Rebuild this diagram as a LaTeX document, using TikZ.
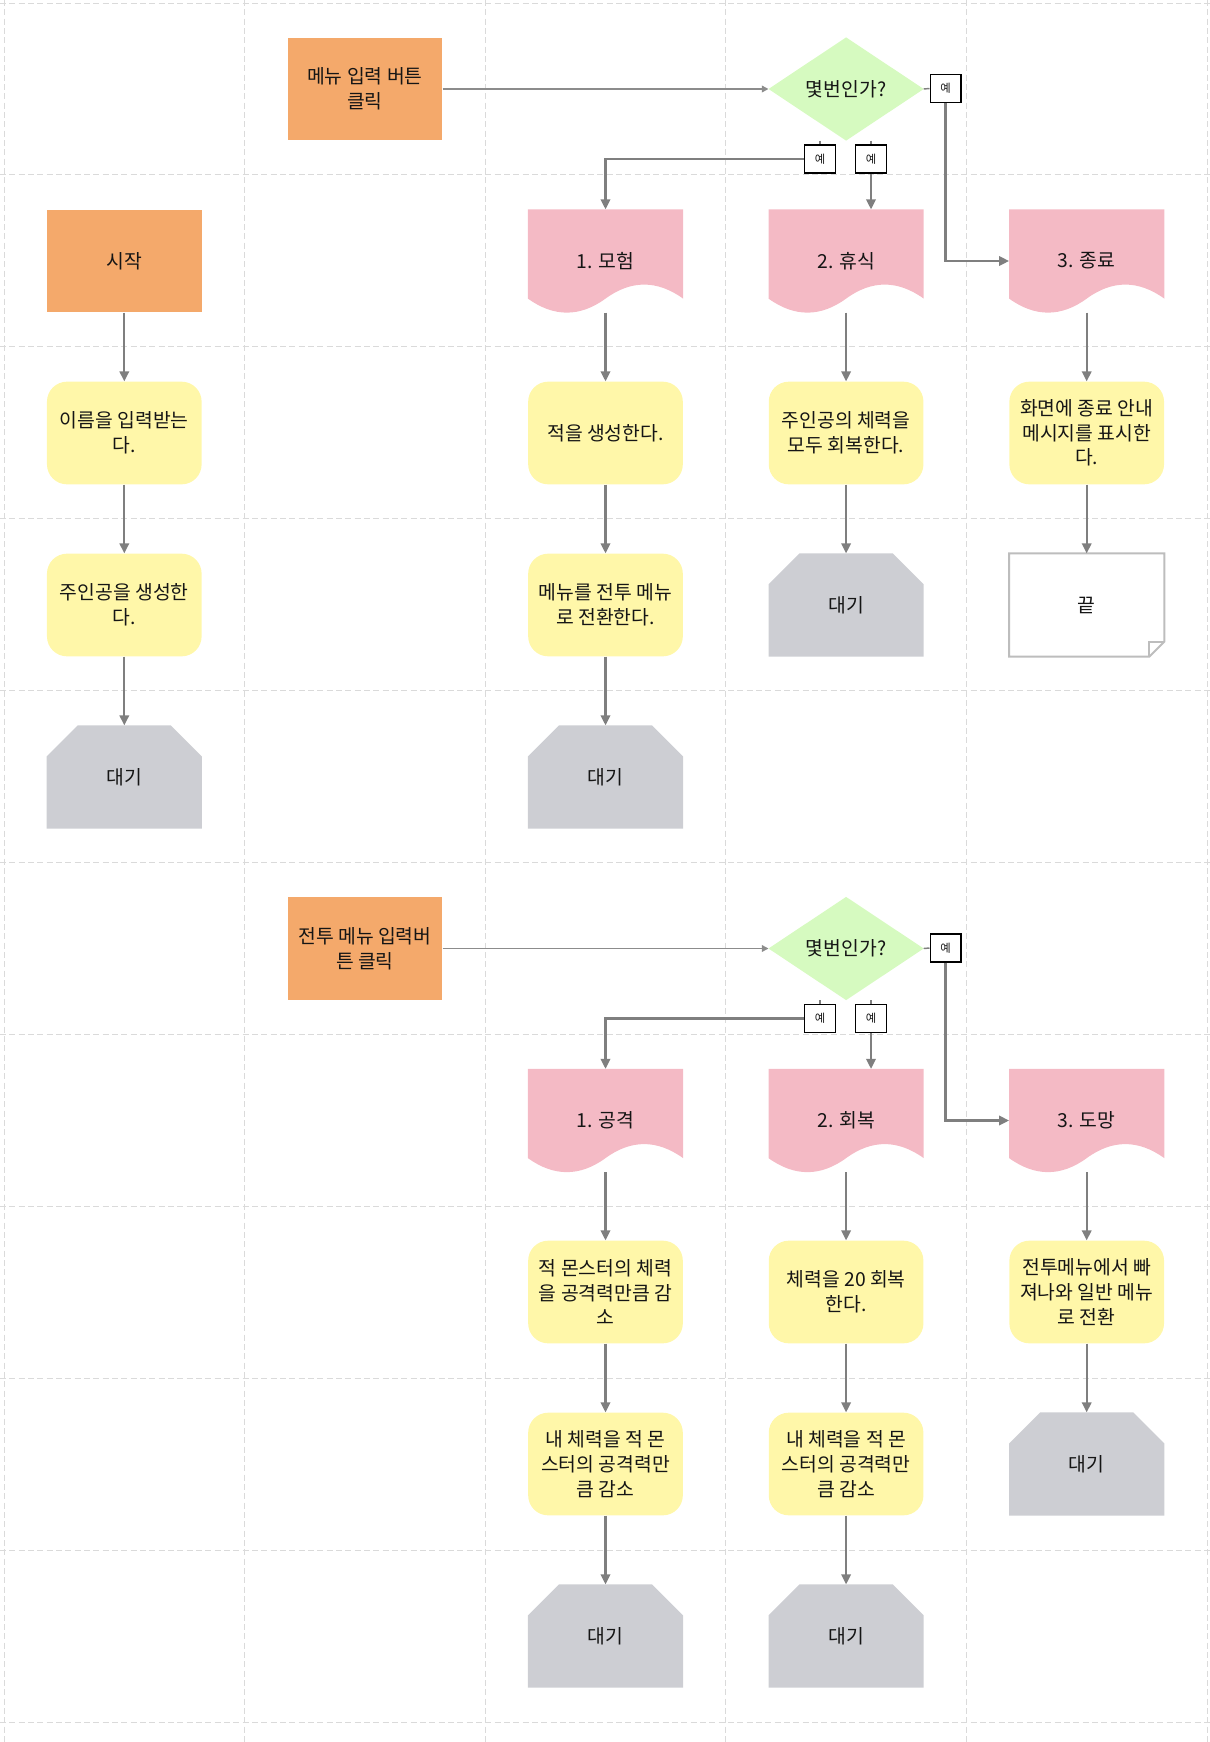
\documentclass[tikz,border=0pt]{standalone}
\usepackage{fontspec}
\setmainfont{Noto Sans CJK KR}
\usetikzlibrary{arrows.meta,calc,backgrounds}
\definecolor{orangec}{HTML}{F4A96B}
\definecolor{pinkc}{HTML}{F4BAC5}
\definecolor{yellowc}{HTML}{FFF7A9}
\definecolor{greenc}{HTML}{D6FAC0}
\definecolor{grayc}{HTML}{CDCED3}
\definecolor{notec}{HTML}{BDBDBD}
\definecolor{arrc}{HTML}{7F7F7F}
\definecolor{arrlight}{HTML}{8C8C8C}
\definecolor{gridc}{HTML}{DADADA}
\definecolor{txtc}{HTML}{151515}
\newcommand\docbg[1]{\fill[pinkc] (#1.north west) -- (#1.north east) -- ($(#1.south east)+(0,14)$) .. controls ($(#1.south east)+(-26,32.7)$) and ($(#1.south east)+(-52,32.7)$) .. ($(#1.south)+(0,14)$) .. controls ($(#1.south west)+(52,-4.7)$) and ($(#1.south west)+(26,-4.7)$) .. ($(#1.south west)+(0,14)$) -- cycle;}
\newcommand\hexbg[1]{\fill[grayc] ($(#1.north west)+(31,0)$) -- ($(#1.north east)+(-31,0)$) -- ($(#1.north east)+(0,-31)$) -- (#1.south east) -- (#1.south west) -- ($(#1.north west)+(0,-31)$) -- cycle;}
\newcommand\diabg[1]{\fill[greenc] (#1.north) -- (#1.east) -- (#1.south) -- (#1.west) -- cycle;}
\newcommand\notebg[1]{\draw[notec, line width=1.5pt, fill=white, line join=miter] (#1.north west) -- (#1.north east) -- ($(#1.south east)+(0,15)$) -- ($(#1.south east)+(-15,0)$) -- (#1.south west) -- cycle; \draw[notec, line width=1.5pt] ($(#1.south east)+(0,15)$) -- ($(#1.south east)+(-15,15)$) -- ($(#1.south east)+(-15,0)$);}
\begin{document}
\begin{tikzpicture}[x=0.75pt,y=0.75pt,
  base/.style={minimum width=116pt, minimum height=77pt, inner sep=0pt, align=center, text=txtc, font=\fontsize{14.5pt}{18.5pt}\selectfont},
  obox/.style={base, fill=orangec},
  ybox/.style={base, fill=yellowc, rounded corners=15pt},
  pbox/.style={base},
  gbox/.style={base},
  nbox/.style={base},
  dbox/.style={base},
  lab/.style={draw=black, line width=1pt, fill=white, minimum width=23pt, minimum height=21pt, inner sep=0pt, text=txtc, font=\fontsize{8.5pt}{10pt}\selectfont},
  arr/.style={draw=arrc, line width=1.7pt, -{Triangle[length=7.5pt,width=7pt]}},
  thinarr/.style={draw=arrlight, line width=1.1pt, -{Triangle[length=5pt,width=5pt]}},
  tick/.style={draw=arrc, line width=1.1pt},
  gridl/.style={draw=gridc, line width=0.75pt, dash pattern=on 4.5pt off 2.5pt}
]
\useasboundingbox (0,0) rectangle (1210,-1742);

% ---------- upper flow ----------
\node[obox] (m1) at (364.9,-89) {메뉴 입력 버튼\\클릭};
\node[dbox] (d1) at (846.1,-89) {몇번인가?};
\node[lab] (y1r) at (945.5,-88.5) {예};
\node[lab] (y1a) at (820,-159) {예};
\node[lab] (y1b) at (871,-159) {예};
\node[obox] (s0) at (124.3,-261) {시작};
\node[pbox] (t1) at (605.5,-261) {1. 모험};
\node[pbox] (t2) at (846.1,-261) {2. 휴식};
\node[pbox] (t3) at (1086.7,-261) {3. 종료};
\node[ybox] (n1) at (124.3,-433) {이름을 입력받는\\다.};
\node[ybox] (a1) at (605.5,-433) {적을 생성한다.};
\node[ybox] (b1) at (846.1,-433) {주인공의 체력을\\모두 회복한다.};
\node[ybox] (c1) at (1086.7,-433) {화면에 종료 안내\\메시지를 표시한\\다.};
\node[ybox] (n2) at (124.3,-605) {주인공을 생성한\\다.};
\node[ybox] (a2) at (605.5,-605) {메뉴를 전투 메뉴\\로 전환한다.};
\node[gbox] (w2) at (846.1,-605) {대기};
\node[nbox] (e1) at (1086.7,-605) {끝};
\node[gbox] (w0) at (124.3,-777) {대기};
\node[gbox] (w1) at (605.5,-777) {대기};

% ---------- lower flow ----------
\node[obox] (m2) at (364.9,-948.5) {전투 메뉴 입력버\\튼 클릭};
\node[dbox] (d2) at (846.1,-948.5) {몇번인가?};
\node[lab] (y2r) at (945.5,-948) {예};
\node[lab] (y2a) at (820,-1018.5) {예};
\node[lab] (y2b) at (871,-1018.5) {예};
\node[pbox] (u1) at (605.5,-1120.5) {1. 공격};
\node[pbox] (u2) at (846.1,-1120.5) {2. 회복};
\node[pbox] (u3) at (1086.7,-1120.5) {3. 도망};
\node[ybox] (f1) at (605.5,-1292) {적 몬스터의 체력\\을 공격력만큼 감\\소};
\node[ybox] (g1) at (846.1,-1292) {체력을 20 회복\\한다.};
\node[ybox] (h1) at (1086.7,-1292) {전투메뉴에서 빠\\져나와 일반 메뉴\\로 전환};
\node[ybox] (f2) at (605.5,-1464) {내 체력을 적 몬\\스터의 공격력만\\큼 감소};
\node[ybox] (g2) at (846.1,-1464) {내 체력을 적 몬\\스터의 공격력만\\큼 감소};
\node[gbox] (h2) at (1086.7,-1464) {대기};
\node[gbox] (v1) at (605.5,-1636) {대기};
\node[gbox] (v2) at (846.1,-1636) {대기};

\begin{scope}[on background layer]
  \foreach \x in {4,244.6,485.2,725.8,966.4,1207} \draw[gridl] (\x,0) -- (\x,-1742);
  \foreach \k in {0,...,10} \draw[gridl] (0,{-3-171.9*\k}) -- (1210,{-3-171.9*\k});
  \diabg{d1} \diabg{d2}
  \docbg{t1} \docbg{t2} \docbg{t3} \docbg{u1} \docbg{u2} \docbg{u3}
  \hexbg{w0} \hexbg{w1} \hexbg{w2} \hexbg{h2} \hexbg{v1} \hexbg{v2}
  \notebg{e1}
\end{scope}

% ---------- connectors upper ----------
\draw[thinarr] (m1.east) -- (d1.west);
\draw[tick] (d1.east) -- (y1r.west);
\draw[arr] (y1r.south) |- (t3.west);
\draw[tick] (y1a.north |- d1.south) -- (y1a.north);
\draw[tick] (y1b.north |- d1.south) -- (y1b.north);
\draw[arr] (y1a.west) -| (t1.north);
\draw[arr] (y1b.south) -- (y1b.south |- t2.north);
\foreach \a/\b in {s0/n1, n1/n2, n2/w0, t1/a1, a1/a2, a2/w1, t2/b1, b1/w2, t3/c1, c1/e1}
  \draw[arr] (\a.south) -- (\b.north);

% ---------- connectors lower ----------
\draw[thinarr] (m2.east) -- (d2.west);
\draw[tick] (d2.east) -- (y2r.west);
\draw[arr] (y2r.south) |- (u3.west);
\draw[tick] (y2a.north |- d2.south) -- (y2a.north);
\draw[tick] (y2b.north |- d2.south) -- (y2b.north);
\draw[arr] (y2a.west) -| (u1.north);
\draw[arr] (y2b.south) -- (y2b.south |- u2.north);
\foreach \a/\b in {u1/f1, f1/f2, f2/v1, u2/g1, g1/g2, g2/v2, u3/h1, h1/h2}
  \draw[arr] (\a.south) -- (\b.north);
\end{tikzpicture}
\end{document}
